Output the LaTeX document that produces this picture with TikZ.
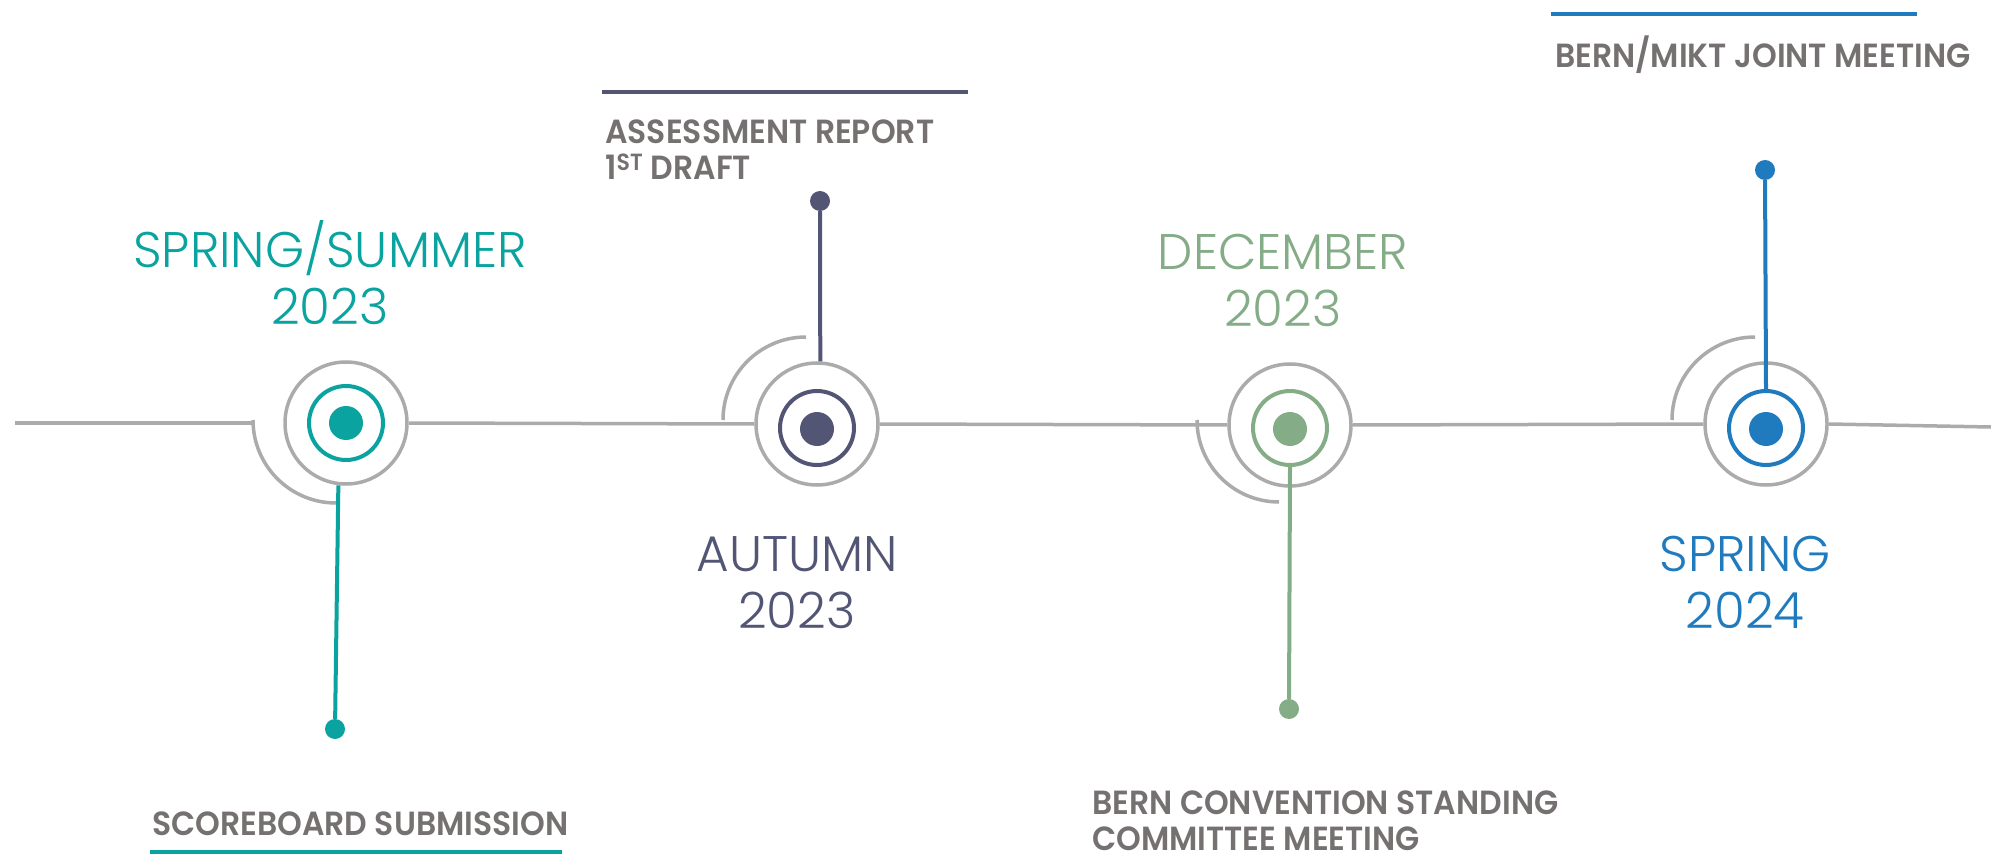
\documentclass[tikz,border=0pt]{standalone}
\usepackage{fontspec}
\setmainfont{Poppins}
\newfontfamily\seasonfont{Poppins}[UprightFont={* Light}]
\newfontfamily\taskfont{Poppins}[UprightFont={* SemiBold}, FakeStretch=0.94]
\definecolor{tealc}{HTML}{0AA3A0}
\definecolor{slatec}{HTML}{525574}
\definecolor{sagec}{HTML}{84AC87}
\definecolor{bluec}{HTML}{1F7BBE}
\definecolor{trackgray}{HTML}{ABABAB}
\definecolor{textgray}{HTML}{767171}

\begin{document}
\begin{tikzpicture}[
		x=1pt, y=-1pt,
		track/.style={draw=trackgray, line width=3.5pt},
		outer ring/.style={circle, draw=trackgray, line width=3.5pt, minimum size=122pt, inner sep=0pt},
		inner ring/.style={circle, draw=#1, line width=4pt, minimum size=74pt, inner sep=0pt},
		hub/.style={circle, fill=#1, minimum size=34pt, inner sep=0pt},
		pin/.style={circle, fill=#1, minimum size=20pt, inner sep=0pt},
		stem/.style={draw=#1, line width=4pt},
		rule/.style={draw=#1, line width=4pt},
		season/.style={text=#1, font=\seasonfont\fontsize{50}{57}\selectfont, align=center, anchor=base, inner sep=0pt},
		tasklabel/.style={text=textgray, font=\taskfont\fontsize{33.5}{36}\selectfont, align=left, anchor=base west, inner sep=0pt}
		]
		
		\useasboundingbox (0,0) rectangle (1991,866);
		
		% milestones
		\node[outer ring] (o1) at (346,423) {};
		\node[inner ring=tealc] (r1) at (346,423) {};
		\node[hub=tealc] (h1) at (346,423) {};
		
		\node[outer ring] (o2) at (817,424) {};
		\node[inner ring=slatec] (r2) at (817,428) {};
		\node[hub=slatec] (h2) at (817,429) {};
		
		\node[outer ring] (o3) at (1290,425) {};
		\node[inner ring=sagec] (r3) at (1290,428) {};
		\node[hub=sagec] (h3) at (1290,429) {};
		
		\node[outer ring] (o4) at (1766,424) {};
		\node[inner ring=bluec] (r4) at (1766,428) {};
		\node[hub=bluec] (h4) at (1766,429) {};
		
		% time line
		\coordinate (track start) at (15,423);
		\coordinate (a1) at (253,420);
		\coordinate (a2) at (723,420);
		\coordinate (a3) at (1197,420);
		\coordinate (a4) at (1672,420);
		\coordinate (track end) at (1991,427);
		
		\draw[track] (track start) -- (a1 |- track start);
		\draw[track] (o1.east) -- (o2.west);
		\draw[track] (o2.east) -- (o3.west);
		\draw[track] (o3.east) -- (o4.west);
		\draw[track] (o4.east) -- (track end);
		
		\draw[track] (a1) arc[start angle=180, end angle=90, radius=83];
		\draw[track] (a2) arc[start angle=180, end angle=270, radius=83];
		\draw[track] (a3) arc[start angle=180, end angle=90, radius=82];
		\draw[track] (a4) arc[start angle=180, end angle=270, radius=83];
		
		% pins
		\node[pin=tealc] (p1) at (335,729) {};
		\node[pin=slatec] (p2) at (820,201) {};
		\node[pin=sagec] (p3) at (1289,709) {};
		\node[pin=bluec] (p4) at (1765,170) {};
		
		\draw[stem=tealc] (o1.263) -- (p1);
		\draw[stem=slatec] (p2) -- (o2.87);
		\draw[stem=sagec] (r3.south) -- (p3);
		\draw[stem=bluec] (p4) -- (r4.north);
		
		% seasons (base = last line)
		\node[season=tealc] (s1) at (330,325) {SPRING/SUMMER\\2023};
		\node[season=slatec] (s2) at (797,628) {AUTUMN\\2023};
		\node[season=sagec] (s3) at (1283,327) {DECEMBER\\2023};
		\node[season=bluec] (s4) at (1745,628) {SPRING\\2024};
		
		% tasks
		\node[tasklabel] (t1) at (152,835) {SCOREBOARD SUBMISSION};
		\node[tasklabel] (t2) at (605,180) {ASSESSMENT REPORT\\1\textsuperscript{ST} DRAFT};
		\node[tasklabel] (t3) at (1092,850) {BERN CONVENTION STANDING\\COMMITTEE MEETING};
		\node[tasklabel] (t4) at (1555,68) {BERN/MIKT JOINT MEETING};
		
		\draw[rule=tealc] (150,852) -- (562,852);
		\draw[rule=slatec] (602,92) -- (968,92);
		\draw[rule=bluec] (1551,14) -- (1917,14);
		
	\end{tikzpicture}
\end{document}
